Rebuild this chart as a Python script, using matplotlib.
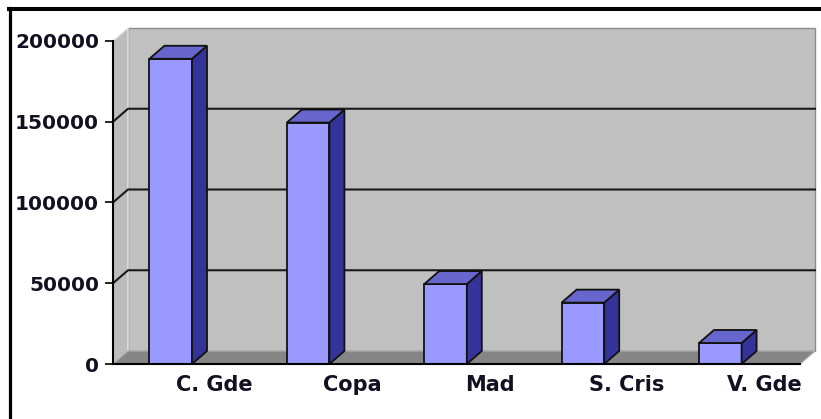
import matplotlib.pyplot as plt
from matplotlib.patches import Polygon
from matplotlib.lines import Line2D
import numpy as np

categories = ["C. Gde", "Copa", "Mad", "S. Cris", "V. Gde"]
values = [189000, 149500, 49500, 38000, 13000]
y_ticks = [0, 50000, 100000, 150000, 200000]

W, H = 821, 419
fig = plt.figure(figsize=(W / 100, H / 100), dpi=100)
fig.patch.set_facecolor("white")

# front plane of the 3d box, in pixels
x0, x1, y0, y1 = 113, 800, 364, 41
ax = fig.add_axes([x0 / W, (H - y0) / H, (x1 - x0) / W, (y0 - y1) / H])
ax.set_xlim(-0.5, 4.5)
ax.set_ylim(0, 200000)
ax.patch.set_visible(False)

# depth of the box (15px right, 13px up) in data units
dx = 15 / ((x1 - x0) / 5)
dy = 13 * 200000 / (y0 - y1)
xl, xr = -0.5, 4.5
top = y_ticks[-1]

# back wall, side wall, floor
ax.add_patch(Polygon([(xl + dx, dy), (xr + dx, dy), (xr + dx, top + dy), (xl + dx, top + dy)],
                     closed=True, fc="#c0c0c0", ec="#8c8c8c", lw=1, clip_on=False, zorder=0))
ax.add_patch(Polygon([(xl, 0), (xl + dx, dy), (xl + dx, top + dy), (xl, top)],
                     closed=True, fc="#bcbcbc", ec="#e6e6e6", lw=1, clip_on=False, zorder=0.5))
ax.add_patch(Polygon([(xl, 0), (xr, 0), (xr + dx, dy), (xl + dx, dy)],
                     closed=True, fc="#858585", ec="#a8a8a8", lw=1, clip_on=False, zorder=0.6))

for v in y_ticks[1:-1]:
    ax.plot([xl, xl + dx, xr + dx], [v, v + dy, v + dy], color="#1a1a1a", lw=1.5,
            clip_on=False, zorder=1)

# bars: front face via ax.bar, then side and top faces
x = np.arange(len(categories))
bars = ax.bar(x - 0.08, values, width=0.31, color="#9999ff", edgecolor="#111111",
              lw=1.3, zorder=3, clip_on=False)
for b in bars:
    l = b.get_x()
    r = l + b.get_width()
    t = b.get_height()
    ax.add_patch(Polygon([(r, 0), (r + dx, dy), (r + dx, t + dy), (r, t)], closed=True,
                         fc="#333399", ec="#111111", lw=1.3, zorder=3, clip_on=False))
    ax.add_patch(Polygon([(l, t), (r, t), (r + dx, t + dy), (l + dx, t + dy)], closed=True,
                         fc="#6666cc", ec="#111111", lw=1.3, zorder=3, clip_on=False))

ax.set_yticks(y_ticks)
ax.set_yticklabels([str(v) for v in y_ticks], fontsize=14.5, fontweight="bold",
                   family="DejaVu Sans", color="#111122")
ax.set_xticks(x + 0.24)
ax.set_xticklabels(categories, fontsize=15, fontweight="bold", family="DejaVu Sans",
                   color="#111122")
ax.tick_params(axis="y", length=6, width=1.2, pad=4, color="black")
ax.tick_params(axis="x", length=0, pad=8)

for s in ["top", "right"]:
    ax.spines[s].set_visible(False)
for s in ["left", "bottom"]:
    ax.spines[s].set_color("black")
    ax.spines[s].set_linewidth(1.5)
    ax.spines[s].set_zorder(4)

# outer frame (left and top edge only)
fig.add_artist(Line2D([10 / W, 10 / W], [0, (H - 8) / H], transform=fig.transFigure,
                      color="black", lw=2.3))
fig.add_artist(Line2D([9 / W, 1], [(H - 9) / H, (H - 9) / H], transform=fig.transFigure,
                      color="black", lw=2.9))

fig.savefig("out.png", dpi=100)
